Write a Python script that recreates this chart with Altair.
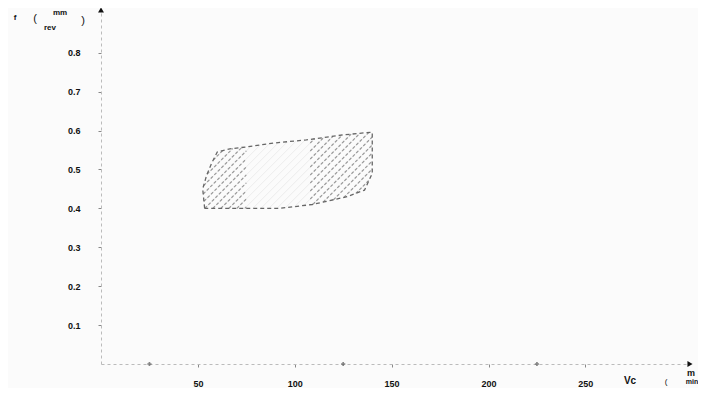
import numpy as np
import pandas as pd
import altair as alt

# ---- data ----
# outline of the hatched working region (Vc in m/min, f in mm/rev)
region_vc = [53.5, 52.5, 54.5, 57, 60, 66.5, 75, 89, 106, 125, 140, 140, 140, 136, 127, 109, 92, 75]
region_f = [0.40, 0.45, 0.485, 0.515, 0.545, 0.553, 0.558, 0.568, 0.576, 0.589, 0.596, 0.525, 0.49, 0.447, 0.43, 0.41, 0.40, 0.40]
# bands of the region where the hatching is dark in the scan
dark_bands = [(52, 75), (108, 141)]
x_ticks = [50, 100, 150, 200, 250]
y_ticks = [0.1, 0.2, 0.3, 0.4, 0.5, 0.6, 0.7, 0.8]
axis_marks_x = [25, 125, 225]

X_MAX = 304
Y_MAX = 0.91
W, H = 589, 354
kx = W / X_MAX
ky = H / Y_MAX


def hatch_segments(xs, ys, spacing=8.0):
    sx = np.array(xs) * kx
    sy = -np.array(ys) * ky
    n = len(sx)
    u = sx + sy
    segs = []
    for c in np.arange(u.min() + spacing / 2, u.max(), spacing):
        pts = []
        for i in range(n):
            j = (i + 1) % n
            f1, f2 = u[i] - c, u[j] - c
            if (f1 < 0) != (f2 < 0):
                t = f1 / (f1 - f2)
                pts.append((sx[i] + t * (sx[j] - sx[i]), sy[i] + t * (sy[j] - sy[i])))
        pts.sort()
        for k in range(0, len(pts) - 1, 2):
            (ax, ay), (bx, by) = pts[k], pts[k + 1]
            segs.append((ax / kx, -ay / ky, bx / kx, -by / ky))
    return segs


def clip_x(seg, lo, hi):
    x1, y1, x2, y2 = seg
    if x2 < x1:
        x1, y1, x2, y2 = x2, y2, x1, y1
    a, b = max(x1, lo), min(x2, hi)
    if b <= a:
        return None
    def yat(x):
        return y1 + (y2 - y1) * (x - x1) / (x2 - x1) if x2 != x1 else y1
    return (a, yat(a), b, yat(b))


segs = hatch_segments(region_vc, region_f)
light = pd.DataFrame(segs, columns=["x", "y", "x2", "y2"])
dark_rows = []
for s in segs:
    for lo, hi in dark_bands:
        c = clip_x(s, lo, hi)
        if c:
            dark_rows.append(c)
dark = pd.DataFrame(dark_rows, columns=["x", "y", "x2", "y2"])

outline = pd.DataFrame({
    "x": region_vc + [region_vc[0]],
    "y": region_f + [region_f[0]],
    "i": list(range(len(region_vc) + 1)),
})

FONT = "Liberation Sans"
xaxis = alt.Axis(values=x_ticks, format="d", title=None, grid=False,
                 labelFont=FONT, labelFontWeight="bold", labelFontSize=9,
                 labelColor="#111", labelPadding=12, tickSize=3,
                 tickColor="#888", domainColor="#bbb", domainDash=[3, 3])
yaxis = alt.Axis(values=y_ticks, format=".1f", title=None, grid=False,
                 labelFont=FONT, labelFontWeight="bold", labelFontSize=9,
                 labelColor="#111", labelPadding=18, tickSize=3,
                 tickColor="#888", domainColor="#bbb", domainDash=[3, 3])
xs = alt.Scale(domain=[0, X_MAX], nice=False, zero=False)
ys = alt.Scale(domain=[0, Y_MAX], nice=False, zero=False)
X = alt.X("x:Q", scale=xs, axis=xaxis)
Y = alt.Y("y:Q", scale=ys, axis=yaxis)

light_layer = alt.Chart(light).mark_rule(color="#ececec", strokeWidth=1).encode(
    x=X, y=Y, x2="x2:Q", y2="y2:Q")
dark_layer = alt.Chart(dark).mark_rule(color="#999999", strokeWidth=1.2, strokeDash=[3, 2]).encode(
    x=X, y=Y, x2="x2:Q", y2="y2:Q")
outline_layer = alt.Chart(outline).mark_line(color="#666", strokeWidth=1.3, strokeDash=[4, 3]).encode(
    x=X, y=Y, order="i:Q")

marks_df = pd.DataFrame({"x": axis_marks_x, "y": [0] * len(axis_marks_x)})
axis_marks = alt.Chart(marks_df).mark_point(shape="cross", size=18, filled=True, color="#555").encode(x=X, y=Y)

arrows_df = pd.DataFrame({"x": [X_MAX, 0], "y": [0, Y_MAX], "s": ["triangle-right", "triangle-up"]})
arrows = alt.Chart(arrows_df).mark_point(filled=True, size=35, color="#111", opacity=1).encode(
    x=X, y=Y, shape=alt.Shape("s:N", scale=None, legend=None))


def label(text, px, py, size=9, weight="bold"):
    return alt.Chart(alt.Data(values=[{}])).mark_text(
        text=text, font=FONT, fontSize=size, fontWeight=weight, color="#111",
        align="center", baseline="middle").encode(x=alt.value(px), y=alt.value(py))


notes = [
    label("f", -86, 8, 8),
    label("(", -66, 9, 11, "normal"),
    label("mm", -41, 3, 8),
    label("rev", -51, 18, 8),
    label(")", -18, 11, 11, "normal"),
    label("Vc", 529, 371, 10),
    label("(", 565, 372, 8, "normal"),
    label("m", 590, 363, 9),
    label("min", 591, 372, 7),
]

chart = alt.layer(light_layer, dark_layer, outline_layer, axis_marks, arrows, *notes).properties(
    width=W, height=H,
    autosize=alt.AutoSizeParams(type="none"),
    padding={"left": 93, "top": 2, "right": 8, "bottom": 24},
    background="#fbfbfb",
).configure_view(stroke=None)

chart.save("out.html", embed_options={"renderer": "svg", "actions": False})
